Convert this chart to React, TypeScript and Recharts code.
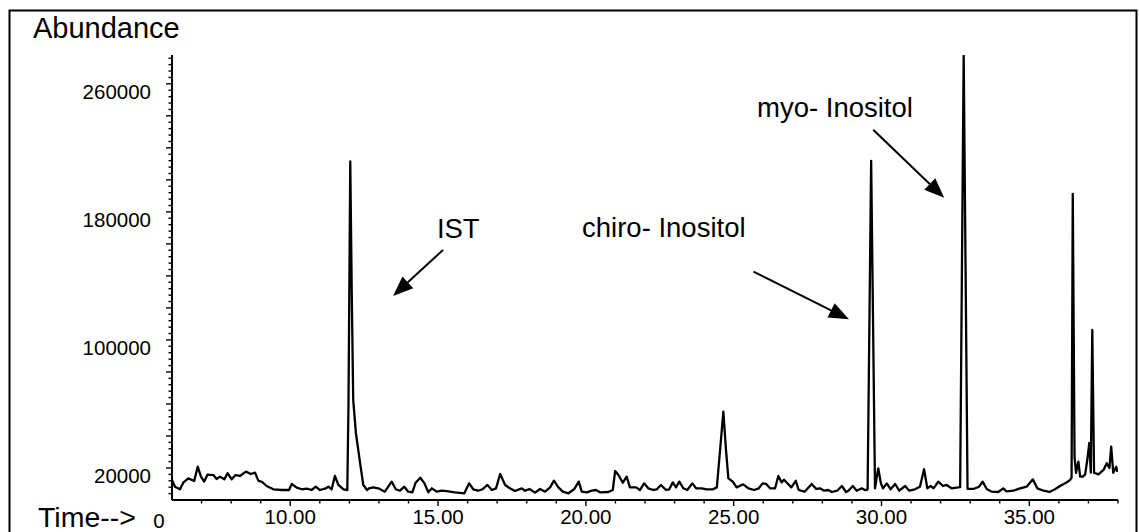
import { LineChart, Line, XAxis, YAxis, ReferenceLine, ReferenceDot } from 'recharts'

const FONT = '"Liberation Sans", Arial, Helvetica, sans-serif'

// retention time (min), abundance
const trace: [number, number][] = [
  [6.0, 12500], [6.1, 8300], [6.27, 6700], [6.38, 10800], [6.55, 13500], [6.75, 11900],
  [6.87, 20800], [6.98, 14600], [7.09, 11500], [7.2, 15800], [7.4, 15600], [7.51, 13100],
  [7.62, 14600], [7.77, 12900], [7.88, 16700], [8.02, 12900], [8.15, 15600], [8.3, 15000],
  [8.5, 17700], [8.67, 16250], [8.81, 17100], [8.92, 12100], [9.05, 11250], [9.2, 8750],
  [9.43, 6700], [9.71, 6250], [9.96, 6250], [10.05, 10000], [10.22, 7700], [10.39, 6700],
  [10.56, 7100], [10.73, 6250], [10.86, 8300], [11.0, 6250], [11.18, 7100], [11.29, 8300],
  [11.4, 6700], [11.51, 15000], [11.63, 9400], [11.8, 6700], [11.93, 6250], [11.97, 60000],
  [12.03, 211500], [12.08, 130000], [12.13, 62500], [12.22, 41900], [12.38, 20800], [12.47, 9400],
  [12.6, 6250], [12.66, 7300], [12.81, 7900], [12.98, 7300], [13.2, 5200], [13.43, 11500],
  [13.57, 6700], [13.71, 5800], [13.86, 8300], [13.99, 5200], [14.13, 4800], [14.24, 10800],
  [14.4, 13900], [14.54, 10400], [14.67, 4800], [14.79, 7300], [14.95, 5200], [15.12, 5800],
  [15.29, 5600], [15.57, 4800], [15.89, 4200], [16.05, 10400], [16.19, 6700], [16.36, 5800],
  [16.5, 6700], [16.67, 9400], [16.82, 6250], [16.96, 7300], [17.1, 16250], [17.27, 9400],
  [17.43, 7300], [17.6, 5600], [17.83, 7300], [17.94, 5800], [18.09, 6900], [18.28, 4600],
  [18.45, 6900], [18.62, 5200], [18.79, 7900], [18.92, 12100], [19.07, 7900], [19.22, 5200],
  [19.41, 4200], [19.6, 6700], [19.76, 11500], [19.86, 5200], [20.03, 4800], [20.2, 5800],
  [20.34, 6250], [20.48, 4800], [20.76, 5000], [20.91, 6250], [20.99, 18100], [21.1, 15600],
  [21.25, 10800], [21.38, 14600], [21.49, 7900], [21.7, 7900], [21.83, 6250], [21.97, 10400],
  [22.11, 7300], [22.28, 6250], [22.4, 6700], [22.54, 9400], [22.71, 6250], [22.82, 6700],
  [22.94, 11000], [23.05, 7900], [23.16, 11500], [23.3, 7300], [23.43, 6250], [23.6, 10400],
  [23.73, 7300], [23.92, 7300], [24.09, 6700], [24.3, 6700], [24.43, 7900], [24.54, 31250],
  [24.65, 55200], [24.74, 31250], [24.82, 13500], [24.97, 11500], [25.1, 7900], [25.32, 9800],
  [25.5, 7300], [25.69, 6250], [25.85, 7300], [25.98, 10400], [26.1, 10000], [26.23, 7300],
  [26.4, 7300], [26.51, 15000], [26.62, 11000], [26.7, 12700], [26.84, 10000], [26.95, 7900],
  [27.1, 12000], [27.2, 6250], [27.4, 5200], [27.64, 10000], [27.79, 6900], [27.92, 7300],
  [28.06, 5800], [28.2, 6250], [28.32, 5000], [28.5, 5800], [28.66, 8750], [28.8, 5000],
  [28.88, 5800], [29.03, 8750], [29.16, 5800], [29.33, 7300], [29.44, 6250], [29.53, 6500],
  [29.65, 211900], [29.78, 7300], [29.89, 19800], [29.98, 10400], [30.05, 7300], [30.18, 10400],
  [30.31, 6700], [30.46, 10000], [30.6, 5800], [30.8, 8750], [30.94, 5800], [31.13, 6700],
  [31.3, 8300], [31.44, 19200], [31.55, 7300], [31.67, 8750], [31.76, 7300], [31.92, 11500],
  [32.08, 8750], [32.2, 9400], [32.37, 7300], [32.6, 7900], [32.66, 8000], [32.78, 277500],
  [32.91, 7000], [33.11, 6900], [33.3, 8300], [33.42, 11500], [33.56, 6900], [33.73, 5200],
  [33.95, 5000], [34.12, 7300], [34.23, 5400], [34.46, 5800], [34.69, 7300], [34.91, 8300],
  [35.12, 12900], [35.27, 7300], [35.48, 5800], [35.68, 5000], [35.87, 6700], [36.04, 8750],
  [36.21, 10400], [36.38, 12500], [36.43, 14000], [36.47, 191250], [36.53, 27000], [36.58, 17000],
  [36.66, 24000], [36.72, 14600], [36.81, 14600], [36.89, 16000], [36.96, 25000], [37.03, 35600],
  [37.08, 17000], [37.13, 106250], [37.19, 17000], [37.34, 16000], [37.51, 18750], [37.62, 23000],
  [37.71, 20000], [37.77, 33300], [37.84, 17000], [37.94, 20800], [37.98, 17500],
]

const xTickLabels = [10, 15, 20, 25, 30, 35]
const xTicks = Array.from({ length: 32 }, (_, i) => i + 7)
const yTickLabels = [20000, 100000, 180000, 260000]
const yTicks = Array.from({ length: 69 }, (_, i) => (i + 1) * 4000)

// peak labels: where the text sits, arrow tail and arrow tip (time, abundance)
const annotations = [
  { label: 'IST', text: [14.96, 163750], from: [15.17, 156250], to: [13.48, 127500] },
  { label: 'chiro- Inositol', text: [19.87, 164400], from: [25.67, 142700], to: [28.9, 112900] },
  { label: 'myo- Inositol', text: [25.79, 239400], from: [29.72, 231250], to: [32.12, 188750] },
]

const chartData = trace.map(([t, v]) => ({ t, v }))

function XTick(props: any) {
  const { x, y, payload } = props
  const t = payload.value
  const labelled = xTickLabels.includes(t)
  return (
    <g>
      <line x1={x} x2={x} y1={y} y2={y + (labelled ? 6 : 3.5)} stroke="#000" strokeWidth={1.4} />
      {labelled && (
        <text x={x} y={y + 24} textAnchor="middle" fontSize={20.5} fontFamily={FONT} fill="#000">
          {t.toFixed(2)}
        </text>
      )}
    </g>
  )
}

function YTick(props: any) {
  const { x, y, payload } = props
  const v = payload.value
  const len = v % 20000 === 0 ? 6 : 3.5
  return (
    <g>
      <line x1={x} x2={x - len} y1={y} y2={y} stroke="#000" strokeWidth={1.4} />
      {yTickLabels.includes(v) && (
        <text x={x - 21} y={y + 15} textAnchor="end" fontSize={20.5} fontFamily={FONT} fill="#000">
          {v}
        </text>
      )}
    </g>
  )
}

function Arrow(props: any) {
  const { x1, y1, x2, y2 } = props
  const dx = x2 - x1
  const dy = y2 - y1
  const len = Math.sqrt(dx * dx + dy * dy)
  const ux = dx / len
  const uy = dy / len
  const headLen = 20
  const headW = 16
  const bx = x2 - ux * headLen
  const by = y2 - uy * headLen
  const nx = -uy * headW / 2
  const ny = ux * headW / 2
  return (
    <g>
      <line x1={x1} y1={y1} x2={bx} y2={by} stroke="#000" strokeWidth={2} />
      <polygon points={`${x2},${y2} ${bx + nx},${by + ny} ${bx - nx},${by - ny}`} fill="#000" />
    </g>
  )
}

export default function App() {
  return (
    <div style={{ position: 'relative', width: 1139, height: 532, overflow: 'hidden', background: '#fff' }}>
      <style>{'html,body{margin:0;padding:0;overflow:hidden;background:#fff}'}</style>
      <LineChart width={1139} height={532} data={chartData} margin={{ top: 55, right: 21, bottom: 2, left: 72 }}>
        <XAxis
          dataKey="t"
          type="number"
          domain={[6, 38]}
          allowDataOverflow
          ticks={xTicks}
          interval={0}
          tick={XTick}
          tickLine={false}
          tickSize={0}
          tickMargin={0}
          height={30}
          axisLine={{ stroke: '#000', strokeWidth: 2 }}
        />
        <YAxis
          type="number"
          domain={[0, 278000]}
          allowDataOverflow
          ticks={yTicks}
          interval={0}
          tick={YTick}
          tickLine={false}
          tickSize={0}
          tickMargin={0}
          width={100}
          axisLine={{ stroke: '#000', strokeWidth: 2 }}
        />
        <Line
          type="linear"
          dataKey="v"
          stroke="#000"
          strokeWidth={2.3}
          strokeLinejoin="round"
          dot={false}
          isAnimationActive={false}
        />
        {annotations.map((a) => (
          <ReferenceLine
            key={'arrow-' + a.label}
            segment={[{ x: a.from[0], y: a.from[1] }, { x: a.to[0], y: a.to[1] }]}
            shape={Arrow}
          />
        ))}
        {annotations.map((a) => (
          <ReferenceDot
            key={'text-' + a.label}
            x={a.text[0]}
            y={a.text[1]}
            shape={(p: any) => (
              <text x={p.cx} y={p.cy} fontSize={27.5} fontFamily={FONT} fill="#000">
                {a.label}
              </text>
            )}
          />
        ))}
      </LineChart>
      <svg width={1139} height={532} style={{ position: 'absolute', left: 0, top: 0, pointerEvents: 'none' }}>
        <rect x={9.5} y={10.5} width={1127} height={600} fill="none" stroke="#000" strokeWidth={2} />
        <text x={33} y={38} fontSize={29} fontFamily={FONT} fill="#000">Abundance</text>
        <text x={38} y={527} fontSize={28.5} fontFamily={FONT} fill="#000">Time--&gt;</text>
        <text x={159} y={528} fontSize={20.5} textAnchor="middle" fontFamily={FONT} fill="#000">0</text>
      </svg>
    </div>
  )
}
